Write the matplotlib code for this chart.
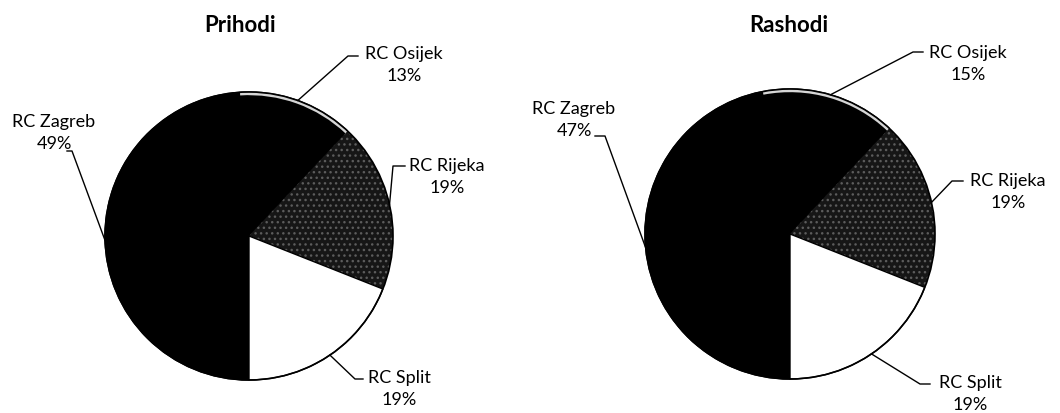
import matplotlib
matplotlib.use("Agg")
import matplotlib.pyplot as plt
import numpy as np
from matplotlib.patches import Circle

plt.rcParams["font.family"] = ["Lato", "DejaVu Sans"]

regions = ["RC Zagreb", "RC Osijek", "RC Rijeka", "RC Split"]
prihodi = [49, 13, 19, 19]
rashodi = [47, 15, 19, 19]
titles = ["Prihodi", "Rashodi"]

COLOURS = ["#000000", "#000000", "#161616", "#ffffff"]
W, H = 1060, 414
# pie centre x, centre y (from top), radius, all in pixels
PIES = [(249, 237, 144), (790, 235, 145)]
TITLE_POS = [(240, 25), (789, 25)]
# per region: label block centre, leader elbow, leader end (pixels from top-left)
LAYOUT = [
    [((54, 133), (72, 152), (67, 152)),
     ((404, 65), (348, 57), (358, 57)),
     ((447, 177), (393, 167), (405, 167)),
     ((399, 389), (355, 380), (363, 380))],
    [((574, 120), (605, 137), (595, 137)),
     ((968, 64), (913, 53), (923, 53)),
     ((1008, 192), (952, 182), (963, 182)),
     ((970, 394), (920, 385), (930, 385))],
]


def draw_pie(ax, values, pie, layout, title, title_pos):
    cx, cy, r = pie
    cy = H - cy
    wedges, _ = ax.pie(values, colors=COLOURS, startangle=-90, counterclock=False,
                       center=(cx, cy), radius=r,
                       wedgeprops=dict(edgecolor="black", linewidth=1))
    # stippled look of the scanned Rijeka slice
    wedges[2].set_hatch("...")
    wedges[2].set_edgecolor("#5c5c5c")
    wedges[2].set_linewidth(0)
    # light rim that survives on the top slice in the scan
    rim = ["none", "#d6d6d6", "none", "none"]
    ax.pie(values, colors=rim, startangle=-90, counterclock=False,
           center=(cx, cy), radius=r,
           wedgeprops=dict(width=0.022 * r, linewidth=0))
    ax.add_patch(Circle((cx, cy), r, fill=False, edgecolor="black", linewidth=1.2))

    cum = np.cumsum(values)
    for name, v, c, (txt, elbow, end) in zip(regions, values, cum, layout):
        mid = np.deg2rad(-90 - 360 * (c - v / 2) / sum(values))
        edge = (cx + r * np.cos(mid), cy + r * np.sin(mid))
        ax.plot([edge[0], elbow[0], end[0]], [edge[1], H - elbow[1], H - end[1]],
                color="black", linewidth=1)
        ax.text(txt[0], H - txt[1], f"{name}\n{v}%", ha="center", va="center",
                multialignment="center", fontsize=13, linespacing=1.45)
    ax.text(title_pos[0], H - title_pos[1], title, ha="center", va="center",
            fontsize=16, fontweight="bold")


fig = plt.figure(figsize=(W / 100, H / 100), dpi=100)
ax = fig.add_axes([0, 0, 1, 1])
for values, pie, layout, title, tpos in zip([prihodi, rashodi], PIES, LAYOUT,
                                            titles, TITLE_POS):
    draw_pie(ax, values, pie, layout, title, tpos)
ax.set_xlim(0, W)
ax.set_ylim(0, H)
ax.set_aspect("equal")
ax.axis("off")
fig.savefig("out.png", dpi=100)
